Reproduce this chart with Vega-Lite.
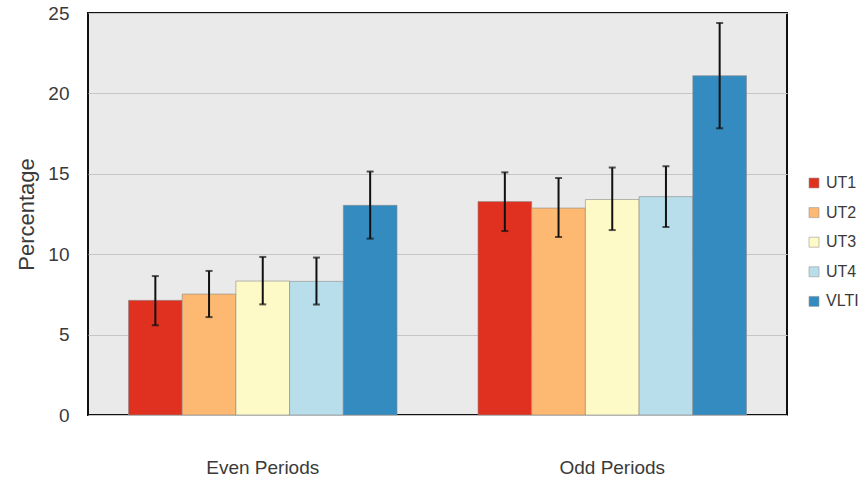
{
  "$schema": "https://vega.github.io/schema/vega-lite/v6.json",
  "width": 699,
  "height": 402,
  "autosize": "none",
  "padding": {"left": 88, "top": 13, "right": 80, "bottom": 66},
  "background": "white",
  "config": {
    "view": {"fill": "#eaeaea", "stroke": "#111111", "strokeWidth": 2},
    "font": "Liberation Sans"
  },
  "data": {
    "values": [
      {"group": "Even Periods", "series": "UT1", "value": 7.13, "lo": 5.58, "hi": 8.64},
      {"group": "Even Periods", "series": "UT2", "value": 7.52, "lo": 6.09, "hi": 8.96},
      {"group": "Even Periods", "series": "UT3", "value": 8.33, "lo": 6.88, "hi": 9.83},
      {"group": "Even Periods", "series": "UT4", "value": 8.31, "lo": 6.87, "hi": 9.79},
      {"group": "Even Periods", "series": "VLTI", "value": 13.04, "lo": 10.97, "hi": 15.14},
      {"group": "Odd Periods", "series": "UT1", "value": 13.27, "lo": 11.44, "hi": 15.09},
      {"group": "Odd Periods", "series": "UT2", "value": 12.87, "lo": 11.07, "hi": 14.74},
      {"group": "Odd Periods", "series": "UT3", "value": 13.4, "lo": 11.5, "hi": 15.39},
      {"group": "Odd Periods", "series": "UT4", "value": 13.58, "lo": 11.69, "hi": 15.47},
      {"group": "Odd Periods", "series": "VLTI", "value": 21.1, "lo": 17.83, "hi": 24.38}
    ]
  },
  "encoding": {
    "x": {
      "field": "group", "type": "nominal",
      "scale": {"paddingInner": 0, "paddingOuter": 0},
      "axis": {"title": null, "labelAngle": 0, "labelFontSize": 19, "labelColor": "#3a3a3a", "labelPadding": 43, "ticks": false, "domain": false}
    },
    "xOffset": {
      "field": "series", "type": "nominal",
      "sort": ["UT1", "UT2", "UT3", "UT4", "VLTI"],
      "scale": {"paddingInner": 0, "paddingOuter": 0.754}
    }
  },
  "layer": [
    {
      "mark": {"type": "bar", "stroke": "#8a8a8a", "strokeWidth": 0.6},
      "encoding": {
        "y": {
          "field": "value", "type": "quantitative",
          "scale": {"domain": [0, 25], "nice": false},
          "axis": {"title": "Percentage", "titleFontSize": 22, "titleFontWeight": "normal", "titleColor": "#3a3a3a", "titlePadding": 9,
                   "values": [0, 5, 10, 15, 20, 25], "labelFontSize": 19, "labelColor": "#3a3a3a", "labelPadding": 19,
                   "ticks": false, "domain": false, "grid": true, "gridColor": "#c6c6c6", "gridWidth": 1.2}
        },
        "color": {
          "field": "series", "type": "nominal",
          "sort": ["UT1", "UT2", "UT3", "UT4", "VLTI"],
          "scale": {"domain": ["UT1", "UT2", "UT3", "UT4", "VLTI"], "range": ["#e0301f", "#fdb871", "#fefac8", "#b8deec", "#338bc0"]},
          "legend": {
            "title": null, "orient": "none", "legendX": 718, "legendY": 162,
            "symbolType": "square", "symbolSize": 100, "symbolStrokeColor": "#999999", "symbolStrokeWidth": 0.6,
            "labelFontSize": 16, "labelColor": "#3a3a3a", "rowPadding": 13.6, "labelOffset": 4
          }
        }
      }
    },
    {
      "mark": {"type": "rule", "color": "#111111", "strokeWidth": 2},
      "encoding": {
        "y": {"field": "lo", "type": "quantitative"},
        "y2": {"field": "hi"}
      }
    },
    {
      "mark": {"type": "tick", "color": "#111111", "thickness": 2, "size": 7, "orient": "horizontal"},
      "encoding": {"y": {"field": "lo", "type": "quantitative"}}
    },
    {
      "mark": {"type": "tick", "color": "#111111", "thickness": 2, "size": 7, "orient": "horizontal"},
      "encoding": {"y": {"field": "hi", "type": "quantitative"}}
    }
  ]
}
